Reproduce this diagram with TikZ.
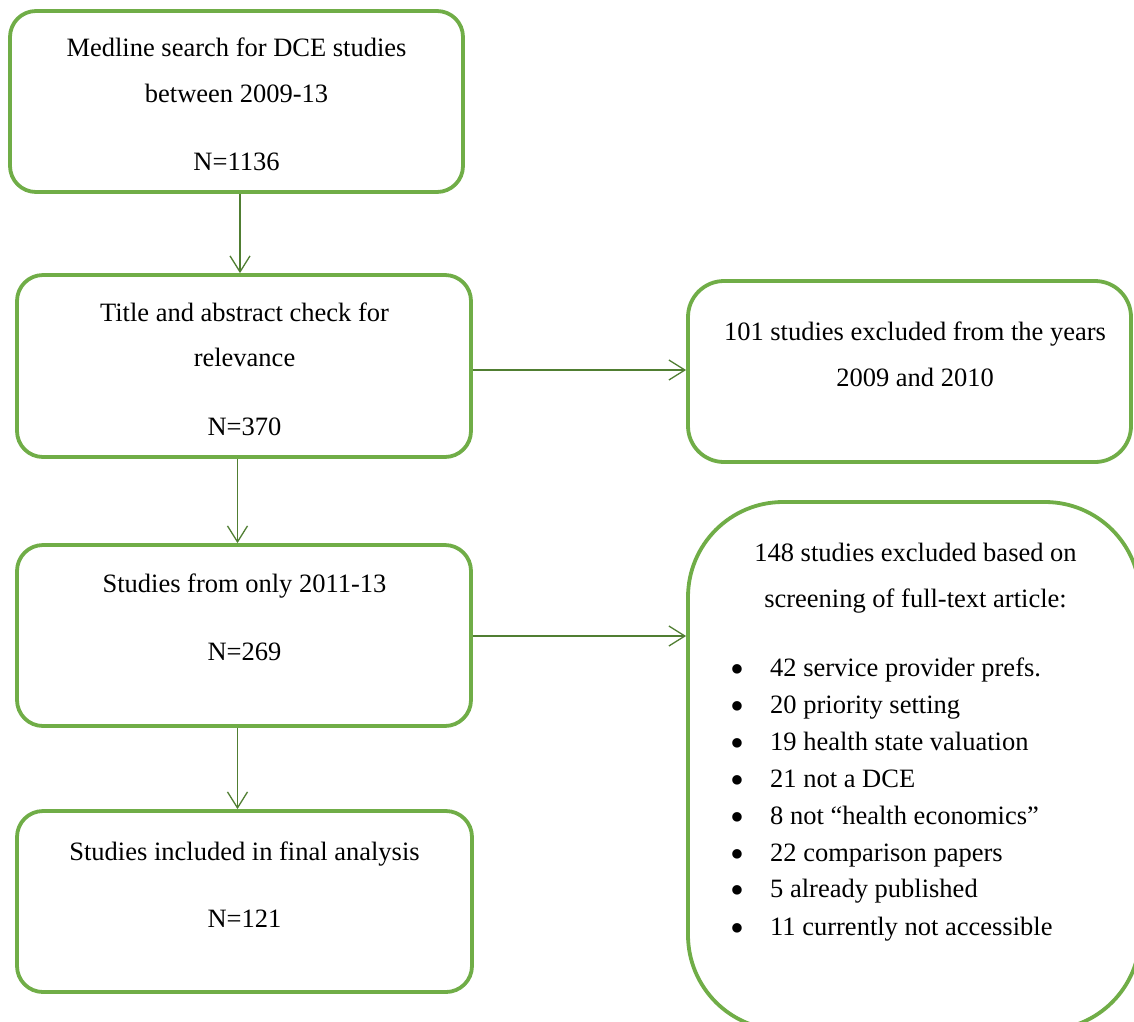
\documentclass[tikz,border=0pt]{standalone}
\usepackage{fontspec}
\setmainfont{Liberation Serif}
\usetikzlibrary{arrows.meta}
\definecolor{boxgreen}{HTML}{70AD47}
\definecolor{arrowgreen}{HTML}{507E32}
\begin{document}
\begin{tikzpicture}[x=1pt,y=-1pt,
  flowbox/.style={draw=boxgreen, line width=3.8pt, rounded corners=26pt,
    inner sep=0pt, fill=white},
  txt/.style={inner sep=0pt, font=\fontsize{26.5}{32}\selectfont, text=black},
  bulletmark/.style={inner sep=0pt, font=\fontsize{26.5}{32}\selectfont, text=black},
  flow/.style={draw=arrowgreen, line width=1.3pt,
    -{Straight Barb[length=16pt,width=20pt,line width=1.3pt]}}
]
\useasboundingbox (0,0) rectangle (1134,1021);
\clip (0,0) rectangle (1134,1021);

% main column of the flow
\node[flowbox, minimum width=453pt, minimum height=181pt] (b1) at (236.5,101.5) {};
\node[flowbox, minimum width=454pt, minimum height=182pt] (b2) at (244,366) {};
\node[flowbox, minimum width=454pt, minimum height=181pt] (b3) at (244,635.5) {};
\node[flowbox, minimum width=455pt, minimum height=181pt] (b4) at (244.5,901.5) {};

% exclusion boxes on the right
\node[flowbox, rounded corners=36pt, minimum width=443pt, minimum height=181pt] (r1) at (909.5,371.5) {};
\node[flowbox, rounded corners=95pt, minimum width=452pt, minimum height=528pt] (r2) at (914,766) {};

% texts of the main column
\node[txt, anchor=base] (t1a) at (236.5,56.7) {Medline search for DCE studies};
\node[txt, anchor=base] (t1b) at (236.5,102) {between 2009-13};
\node[txt, anchor=base] (t1c) at (236.5,170) {N=1136};

\node[txt, anchor=base] (t2a) at (244.5,321) {Title and abstract check for};
\node[txt, anchor=base] (t2b) at (244.5,366) {relevance};
\node[txt, anchor=base] (t2c) at (244.5,435) {N=370};

\node[txt, anchor=base] (t3a) at (244.5,592) {Studies from only 2011-13};
\node[txt, anchor=base] (t3b) at (244.5,660) {N=269};

\node[txt, anchor=base] (t4a) at (244.5,860) {Studies included in final analysis};
\node[txt, anchor=base] (t4b) at (244.5,927) {N=121};

% texts of the exclusion boxes
\node[txt, anchor=base] (u1a) at (915,340) {101 studies excluded from the years};
\node[txt, anchor=base] (u1b) at (915,386) {2009 and 2010};

\node[txt, anchor=base] (u2a) at (915.5,561) {148 studies excluded based on};
\node[txt, anchor=base] (u2b) at (915.5,607) {screening of full-text article:};

% bullet list of exclusion reasons
\foreach \yy/\item [count=\i] in {
    676/{42 service provider prefs.},
    713/{20 priority setting},
    750/{19 health state valuation},
    787/{21 not a DCE},
    824/{8 not “health economics”},
    861/{22 comparison papers},
    897/{5 already published},
    935/{11 currently not accessible}} {
  \node[bulletmark, anchor=base] (bul\i) at (737.3,\yy+6) {\scalebox{1.5}{•}};
  \node[txt, anchor=base west] (itm\i) at (770,\yy) {\item};
}

% connector positions
\coordinate (x1) at (240,0);
\coordinate (x2) at (237.5,0);
\coordinate (y1) at (0,370);
\coordinate (y2) at (0,636);

\draw[flow] (b1.south -| x1) -- (b2.north -| x1);
\draw[flow] (b2.south -| x2) -- (b3.north -| x2);
\draw[flow] (b3.south -| x2) -- (b4.north -| x2);
\draw[flow] (b2.east |- y1) -- (r1.west |- y1);
\draw[flow] (b3.east |- y2) -- (r2.west |- y2);
\end{tikzpicture}
\end{document}
